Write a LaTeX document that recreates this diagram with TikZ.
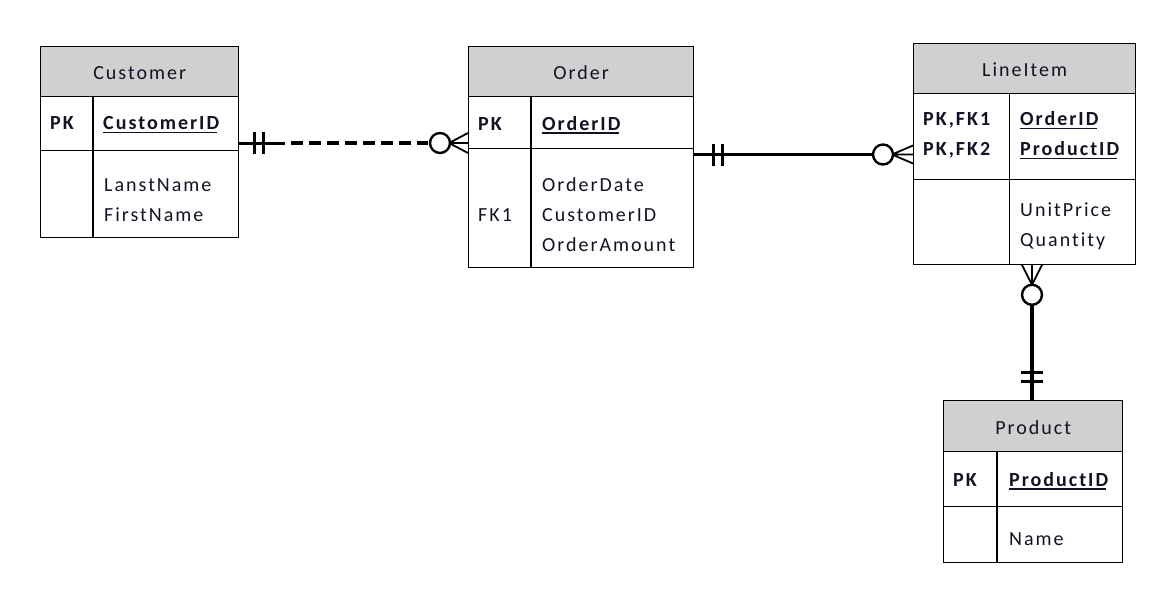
\documentclass[tikz,border=0pt]{standalone}
\usepackage{fontspec}
\setmainfont{Carlito}[LetterSpace=10, Ligatures={NoCommon}]
\definecolor{hdrgray}{RGB}{208,208,208}
\definecolor{inkc}{RGB}{18,18,36}

\begin{document}
\begin{tikzpicture}[
  x = 1pt, y = -1pt,
  every node/.style = {font=\fontsize{20}{24}\selectfont, text=inkc, inner sep=0pt},
  cell/.style = {draw, line width=1.3pt, anchor=north west},
  hdr/.style  = {cell, fill=hdrgray, text height=16pt, text depth=0pt},
  key/.style  = {anchor=base west, font=\fontsize{20}{24}\selectfont\bfseries},
  attr/.style = {anchor=base west},
  grid/.style = {line width=1.3pt},
  ul/.style   = {line width=1.8pt, inkc},
  rel/.style  = {line width=3.6pt},
  bar/.style  = {line width=3pt},
  ring/.style = {line width=2.4pt, fill=white},
  foot/.style = {line width=1.8pt},
]
\useasboundingbox (0,0) rectangle (1172,592);

% Customer
\node[hdr, minimum width=198pt, minimum height=50pt] (cust-hd) at (40,46) {Customer};
\node[cell, minimum width=198pt, minimum height=54pt] (cust-pk) at (40,96) {};
\node[cell, minimum width=198pt, minimum height=87pt] (cust-at) at (40,150) {};
\draw[grid] ([xshift=53pt]cust-pk.north west) -- ([xshift=53pt]cust-at.south west);
\node[key] (cust-k) at (50,129.5) {PK};
\node[key] (cust-id) at (103,129.5) {CustomerID};
\node[attr] (cust-a1) at (104,191.5) {LanstName};
\node[attr] (cust-a2) at (104,221.5) {FirstName};

% Order
\node[hdr, minimum width=225pt, minimum height=50pt] (ord-hd) at (468,46) {Order};
\node[cell, minimum width=225pt, minimum height=52pt] (ord-pk) at (468,96) {};
\node[cell, minimum width=225pt, minimum height=119pt] (ord-at) at (468,148) {};
\draw[grid] ([xshift=63pt]ord-pk.north west) -- ([xshift=63pt]ord-at.south west);
\node[key] (ord-k) at (478,130) {PK};
\node[key] (ord-id) at (542,130) {OrderID};
\node[attr] (ord-fk) at (478,221.5) {FK1};
\foreach \t [count=\i] in {OrderDate, CustomerID, OrderAmount}
  \node[attr] (ord-a\i) at (542,161.5+30*\i) {\t};

% LineItem
\node[hdr, minimum width=222pt, minimum height=50pt] (li-hd) at (913,42.5) {LineItem};
\node[cell, minimum width=222pt, minimum height=86pt] (li-pk) at (913,92.5) {};
\node[cell, minimum width=222pt, minimum height=85pt] (li-at) at (913,178.5) {};
\draw[grid] ([xshift=96.5pt]li-pk.north west) -- ([xshift=96.5pt]li-at.south west);
\node[key] (li-k1) at (923,125.5) {PK,FK1};
\node[key] (li-k2) at (923,155.5) {PK,FK2};
\node[key] (li-id1) at (1020,125.5) {OrderID};
\node[key] (li-id2) at (1020,155.5) {ProductID};
\node[attr] (li-a1) at (1020,216.5) {UnitPrice};
\node[attr] (li-a2) at (1020,246.5) {Quantity};

% Product
\node[hdr, minimum width=179pt, minimum height=51pt] (prod-hd) at (943,400) {Product};
\node[cell, minimum width=179pt, minimum height=55pt] (prod-pk) at (943,451) {};
\node[cell, minimum width=179pt, minimum height=56pt] (prod-at) at (943,506) {};
\draw[grid] ([xshift=54pt]prod-pk.north west) -- ([xshift=54pt]prod-at.south west);
\node[key] (prod-k) at (953,486) {PK};
\node[key] (prod-id) at (1009,486) {ProductID};
\node[attr] (prod-a1) at (1009,545) {Name};

% key underlines
\foreach \n in {cust-id, ord-id, li-id1, li-id2, prod-id}
  \draw[ul] ([yshift=-3pt]\n.base west) -- ([yshift=-3pt,xshift=-2pt]\n.base east);

% Customer -- Order
\coordinate (c1s) at (cust-pk.east |- 0,143);
\coordinate (c1e) at (ord-pk.west |- 0,143);
\draw[rel, line width=3pt] (c1s) -- ([xshift=46pt]c1s);
\draw[rel, line width=4pt, dash pattern=on 12pt off 6pt] ([xshift=52pt]c1s) -- ([xshift=-40pt]c1e);
\draw[bar] ([xshift=15pt,yshift=11pt]c1s) -- ++(0,22);
\draw[bar] ([xshift=24pt,yshift=11pt]c1s) -- ++(0,22);
\draw[foot] ([xshift=-19pt]c1e) -- ([yshift=10pt]c1e)
            ([xshift=-19pt]c1e) -- (c1e)
            ([xshift=-19pt]c1e) -- ([yshift=-10pt]c1e);
\draw[ring] ([xshift=-28pt]c1e) circle (10pt);

% Order -- LineItem
\coordinate (c2s) at (ord-at.east |- 0,154.5);
\coordinate (c2e) at (li-pk.west |- 0,154.5);
\draw[rel] (c2s) -- ([xshift=-40pt]c2e);
\draw[bar] ([xshift=19pt,yshift=11pt]c2s) -- ++(0,22);
\draw[bar] ([xshift=28pt,yshift=11pt]c2s) -- ++(0,22);
\draw[foot] ([xshift=-21pt]c2e) -- ([yshift=9pt]c2e)
            ([xshift=-21pt]c2e) -- (c2e)
            ([xshift=-21pt]c2e) -- ([yshift=-9pt]c2e);
\draw[ring] ([xshift=-30pt]c2e) circle (10pt);

% LineItem -- Product
\coordinate (c3s) at (li-at.south -| 1032,0);
\coordinate (c3e) at (prod-hd.north -| 1032,0);
\draw[rel] ([yshift=-40pt]c3s) -- (c3e);
\draw[bar] ([yshift=28pt,xshift=-11pt]c3e) -- ++(22,0);
\draw[bar] ([yshift=19pt,xshift=-11pt]c3e) -- ++(22,0);
\draw[foot] ([yshift=-20pt]c3s) -- ([xshift=-10pt]c3s)
            ([yshift=-20pt]c3s) -- (c3s)
            ([yshift=-20pt]c3s) -- ([xshift=10pt]c3s);
\draw[ring] ([yshift=-30pt]c3s) circle (10pt);

\end{tikzpicture}
\end{document}
